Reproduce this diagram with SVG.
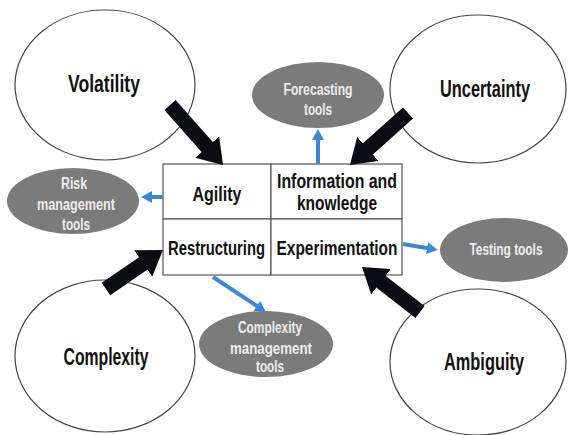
<svg xmlns="http://www.w3.org/2000/svg" width="570" height="435" viewBox="0 0 570 435">
<defs>
<style>
.big{fill:#fff;stroke:#444;stroke-width:1.2}
.tool{fill:#7b7b7b;stroke:none}
text{font-family:"Liberation Sans","Liberation Sans Narrow",Arial,sans-serif;font-weight:bold;text-anchor:middle}
.bt{fill:#111}
.tt{fill:#eee;font-size:16px}
.cell{fill:#fff;stroke:#555;stroke-width:1.2}
.black{stroke:#0b0b14;stroke-width:15;fill:none;marker-end:url(#bh)}
.blue{stroke:#3f86d6;stroke-width:4;fill:none;marker-end:url(#lh)}
</style>
<marker id="bh" markerUnits="userSpaceOnUse" markerWidth="24" markerHeight="32" viewBox="0 0 24 32" refX="1" refY="16" orient="auto"><path d="M0,0 L24,16 L0,32 z" fill="#0b0b14"/></marker>
<marker id="lh" markerUnits="userSpaceOnUse" markerWidth="11" markerHeight="12" viewBox="0 0 11 12" refX="1" refY="6" orient="auto"><path d="M0,0 L11,6 L0,12 z" fill="#3f86d6"/></marker>
</defs>
<rect width="570" height="435" fill="#fff"/>
<g id="volatility"><ellipse class="big" cx="105" cy="85" rx="90" ry="75"/><text class="bt" x="104" y="92" font-size="24" textLength="72" lengthAdjust="spacingAndGlyphs">Volatility</text></g>
<g id="uncertainty"><ellipse class="big" cx="478" cy="89" rx="88" ry="74"/><text class="bt" x="485" y="97" font-size="23" textLength="90" lengthAdjust="spacingAndGlyphs">Uncertainty</text></g>
<g id="complexity"><ellipse class="big" cx="105" cy="356" rx="90" ry="76"/><text class="bt" x="106" y="365" font-size="23" textLength="85" lengthAdjust="spacingAndGlyphs">Complexity</text></g>
<g id="ambiguity"><ellipse class="big" cx="478" cy="362" rx="88" ry="73"/><text class="bt" x="484" y="370" font-size="23" textLength="80" lengthAdjust="spacingAndGlyphs">Ambiguity</text></g>
<g id="forecasting"><ellipse class="tool" cx="318" cy="95" rx="66" ry="33"/><text class="tt" x="318" y="95" textLength="69" lengthAdjust="spacingAndGlyphs">Forecasting</text><text class="tt" x="318" y="115" textLength="28" lengthAdjust="spacingAndGlyphs">tools</text></g>
<g id="risk"><ellipse class="tool" cx="73" cy="201" rx="66" ry="33"/><text class="tt" x="74" y="189" textLength="26" lengthAdjust="spacingAndGlyphs">Risk</text><text class="tt" x="76" y="210" textLength="78" lengthAdjust="spacingAndGlyphs">management</text><text class="tt" x="76" y="230" textLength="28" lengthAdjust="spacingAndGlyphs">tools</text></g>
<g id="complexity-tools"><ellipse class="tool" cx="266" cy="344" rx="67" ry="33"/><text class="tt" x="270" y="333" textLength="64" lengthAdjust="spacingAndGlyphs">Complexity</text><text class="tt" x="271" y="354" textLength="82" lengthAdjust="spacingAndGlyphs">management</text><text class="tt" x="270" y="372" textLength="28" lengthAdjust="spacingAndGlyphs">tools</text></g>
<g id="testing"><ellipse class="tool" cx="504" cy="250" rx="64" ry="32"/><text class="tt" x="506" y="255" textLength="73" lengthAdjust="spacingAndGlyphs">Testing tools</text></g>
<g id="agility"><rect class="cell" x="163" y="164" width="108" height="55"/><text class="bt" x="217" y="201" font-size="21" textLength="49" lengthAdjust="spacingAndGlyphs">Agility</text></g>
<g id="information"><rect class="cell" x="271" y="164" width="131" height="55"/><text class="bt" x="337" y="188" font-size="20" textLength="120" lengthAdjust="spacingAndGlyphs">Information and</text><text class="bt" x="337" y="210" font-size="20" textLength="80" lengthAdjust="spacingAndGlyphs">knowledge</text></g>
<g id="restructuring"><rect class="cell" x="163" y="219" width="108" height="56"/><text class="bt" transform="translate(216.5,255) scale(0.74,1)" font-size="20">Restructuring</text></g>
<g id="experimentation"><rect class="cell" x="271" y="219" width="131" height="56"/><text class="bt" transform="translate(337,255) scale(0.772,1)" font-size="20">Experimentation</text></g>
<g id="connectors">
<line class="black" x1="170" y1="105" x2="207.8" y2="147.8"/>
<line class="black" x1="408" y1="113" x2="367.1" y2="149.6"/>
<line class="black" x1="106" y1="289" x2="144" y2="262.9"/>
<line class="black" x1="420" y1="312" x2="380.2" y2="281.1"/>
<line class="blue" x1="318" y1="164" x2="318" y2="139"/>
<line class="blue" x1="163" y1="197" x2="151" y2="197"/>
<line class="blue" x1="213" y1="277" x2="257.6" y2="306.5"/>
<line class="blue" x1="403" y1="244" x2="428" y2="248.3"/>
</g>
</svg>
